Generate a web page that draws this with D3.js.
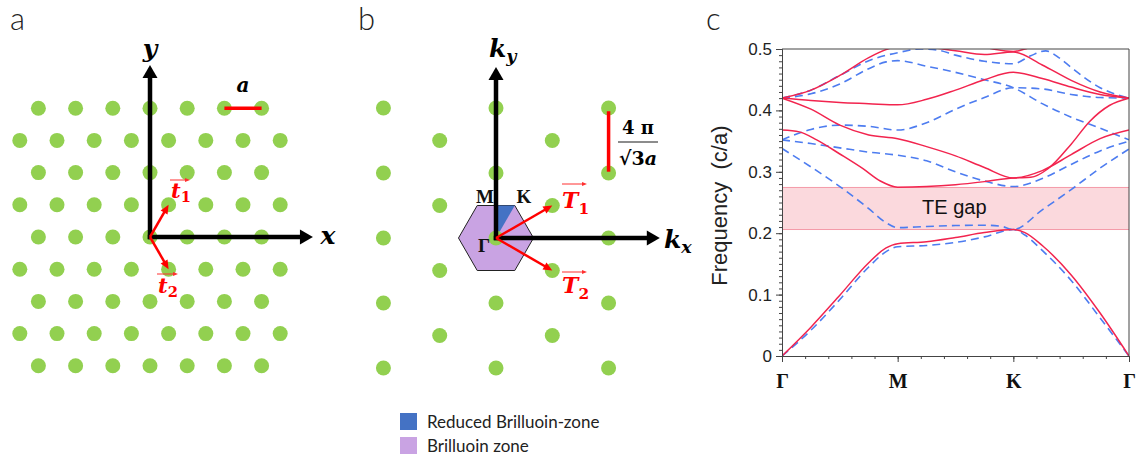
<!DOCTYPE html>
<html>
<head>
<meta charset="utf-8">
<script src="https://cdn.jsdelivr.net/npm/d3@7"></script>
<style>
  html, body { margin: 0; padding: 0; background: #fff; }
  svg { display: block; }
</style>
</head>
<body>
<svg id="fig" width="1142" height="461"></svg>
<script>
// ---------- data ----------
// panel a: real-space triangular lattice (column offsets in units of a, rows in units of a*sqrt(3)/2)
const realRows = [4, 3, 2, 1, 0, -1, -2, -3, -4];
const realColsWhole = [-3, -2, -1, 0, 1, 2, 3];
const realColsHalf = [-3.5, -2.5, -1.5, -0.5, 0.5, 1.5, 2.5, 3.5];
const realVectors = [
  {sub: '1', v: [0.5, 1]},
  {sub: '2', v: [0.5, -1]}
];

// panel b: reciprocal lattice (units of |T|)
const recipCols = [-2, -1, 0, 1, 2];           // column index, spacing sqrt(3)/2
const recipRowsEven = [2, 1, 0, -1, -2];
const recipRowsOdd = [1.5, 0.5, -0.5, -1.5];
const bzHexagon = [[0.577, 0], [0.289, 0.5], [-0.289, 0.5], [-0.577, 0], [-0.289, -0.5], [0.289, -0.5]];
const reducedBZ = [[0, 0], [0, 0.5], [0.289, 0.5]];
const recipVectors = [
  {sub: '1', v: [0.866, 0.5]},
  {sub: '2', v: [0.866, -0.5]}
];
const legendItems = [
  {label: 'Reduced Brilluoin-zone', color: '#4472c4'},
  {label: 'Brilluoin zone', color: '#c9a3e3'}
];

// panel c: band structure
const kTicks = [0, 1, 2, 3];
const kLabels = ['Γ', 'M', 'K', 'Γ'];
const freqTicks = [0, 0.1, 0.2, 0.3, 0.4, 0.5];
const teGap = [0.206, 0.2745];

// TE bands (red, solid)  [k, frequency]
const te1 = [[0,0],[0.25,0.047],[0.5,0.099],[0.75,0.152],[0.9,0.176],[1,0.183],[1.25,0.186],[1.5,0.193],[1.75,0.201],[2,0.206],[2.1,0.201],[2.25,0.180],[2.5,0.132],[2.75,0.070],[3,0]];
const te2 = [[0,0.368],[0.15,0.365],[0.3,0.352],[0.5,0.329],[0.7,0.305],[0.85,0.285],[1,0.275],[1.25,0.276],[1.5,0.279],[1.75,0.284],[2,0.290],[2.15,0.291],[2.3,0.305],[2.5,0.345],[2.66,0.382],[2.83,0.408],[3,0.42]];
const te3 = [[0,0.42],[0.25,0.402],[0.5,0.376],[0.75,0.360],[1,0.354],[1.25,0.341],[1.5,0.326],[1.75,0.307],[2,0.290],[2.25,0.302],[2.5,0.328],[2.75,0.354],[3,0.368]];
const te4 = [[0,0.42],[0.25,0.416],[0.5,0.413],[0.75,0.411],[1,0.409],[1.25,0.418],[1.5,0.433],[1.75,0.450],[2,0.462],[2.25,0.452],[2.5,0.438],[2.75,0.426],[3,0.42]];
const te5 = [[0,0.42],[0.25,0.433],[0.5,0.457],[0.75,0.486],[0.9,0.499],[1,0.504],[1.25,0.503],[1.5,0.497],[1.75,0.491],[2,0.495],[2.25,0.474],[2.5,0.449],[2.75,0.43],[3,0.42]];
const te6 = [[1.7,0.506],[1.85,0.499],[2,0.496],[2.1,0.5],[2.2,0.506]];

// TM bands (blue, dashed)
const tm1 = [[0,0],[0.25,0.042],[0.5,0.092],[0.75,0.145],[0.9,0.170],[1,0.178],[1.25,0.180],[1.5,0.185],[1.75,0.194],[2,0.206],[2.1,0.197],[2.25,0.172],[2.5,0.123],[2.75,0.062],[3,0]];
const tm2 = [[0,0.338],[0.25,0.308],[0.5,0.276],[0.75,0.240],[0.9,0.217],[1,0.209],[1.25,0.211],[1.5,0.2125],[1.75,0.213],[1.9,0.211],[2,0.206],[2.25,0.238],[2.5,0.271],[2.75,0.306],[3,0.337]];
const tm3 = [[0,0.352],[0.25,0.346],[0.5,0.339],[0.75,0.332],[1,0.327],[1.25,0.318],[1.5,0.300],[1.75,0.285],[2,0.276],[2.25,0.289],[2.5,0.312],[2.75,0.334],[3,0.350]];
const tm4 = [[0,0.352],[0.25,0.369],[0.5,0.376],[0.75,0.374],[1,0.368],[1.25,0.38],[1.5,0.402],[1.75,0.421],[2,0.437],[2.25,0.435],[2.5,0.426],[2.75,0.421],[3,0.42]];
const tm5 = [[0,0.42],[0.25,0.427],[0.5,0.443],[0.75,0.468],[0.9,0.479],[1,0.481],[1.25,0.472],[1.5,0.462],[1.75,0.450],[2,0.437],[2.25,0.411],[2.5,0.389],[2.75,0.371],[3,0.352]];
const tm6 = [[0,0.42],[0.25,0.433],[0.5,0.457],[0.75,0.481],[1,0.494],[1.2,0.5],[1.35,0.498],[1.5,0.490],[1.75,0.480],[2,0.476],[2.15,0.489],[2.28,0.497],[2.4,0.485],[2.5,0.47],[2.75,0.437],[3,0.42]];

const teBands = [te1, te2, te3, te4, te5, te6];
const tmBands = [tm1, tm2, tm3, tm4, tm5, tm6];

// ---------- styles ----------
const GREEN = '#92d050';
const RED = '#ff0000';
const MATH = '"DejaVu Serif", serif';
const PANEL_FONT = 'Lato, "DejaVu Sans", sans-serif';

const svg = d3.select('#fig');

function arrow(g, x1, y1, x2, y2, color, w, hl, hw, cap) {
  const dx = x2 - x1, dy = y2 - y1, L = Math.hypot(dx, dy);
  const ux = dx / L, uy = dy / L;
  const bx = x2 - ux * hl, by = y2 - uy * hl;
  g.append('line')
    .attr('x1', x1).attr('y1', y1)
    .attr('x2', bx + ux).attr('y2', by + uy)
    .attr('stroke', color).attr('stroke-width', w)
    .attr('stroke-linecap', cap || 'butt');
  g.append('path')
    .attr('d', `M${x2},${y2}L${bx - uy * hw / 2},${by + ux * hw / 2}L${bx + uy * hw / 2},${by - ux * hw / 2}Z`)
    .attr('fill', color);
}

function vecLabel(g, x, y, main, sub, size, subDy, color, subItalic) {
  const t = g.append('text')
    .attr('x', x).attr('y', y)
    .attr('font-family', MATH).attr('font-weight', 'bold').attr('font-style', 'italic')
    .attr('font-size', size).attr('fill', color);
  t.append('tspan').text(main);
  t.append('tspan').attr('dy', subDy).attr('font-size', size * 0.7)
    .attr('font-style', subItalic ? 'italic' : 'normal').text(sub);
  return t;
}

// panel letters
[['a', 10, 30], ['b', 358, 30], ['c', 706, 30]].forEach(([s, x, y]) => {
  svg.append('text').attr('x', x).attr('y', y)
    .attr('font-family', PANEL_FONT).attr('font-weight', 300)
    .attr('font-size', 31).attr('fill', '#222').text(s);
});

// ================= panel a =================
const xA = d3.scaleLinear().domain([0, 1]).range([150, 187.2]);
const yA = d3.scaleLinear().domain([0, 1]).range([237, 204.8]);
const gA = svg.append('g');

const realDots = [];
realRows.forEach(r => {
  const cols = (r % 2 === 0) ? realColsWhole : realColsHalf;
  cols.forEach(c => realDots.push([c, r]));
});
gA.selectAll('circle.dot').data(realDots).enter().append('circle')
  .attr('class', 'dot')
  .attr('cx', d => xA(d[0])).attr('cy', d => yA(d[1]))
  .attr('r', 7.5).attr('fill', GREEN);

// scale bar "a" between two neighbouring dots of the top row
gA.append('line')
  .attr('x1', xA(2)).attr('x2', xA(3)).attr('y1', yA(4)).attr('y2', yA(4))
  .attr('stroke', RED).attr('stroke-width', 3.5);
gA.append('text').attr('x', xA(2.5)).attr('y', yA(4) - 16)
  .attr('text-anchor', 'middle').attr('font-family', MATH)
  .attr('font-weight', 'bold').attr('font-style', 'italic').attr('font-size', 20).text('a');

// axes
arrow(gA, xA(0), yA(0), xA(0), yA(5.34), '#000', 4.5, 13, 15, 'square');
arrow(gA, xA(0), yA(0), xA(4.38), yA(0), '#000', 4.5, 13, 15, 'square');
gA.append('text').attr('x', xA(0)).attr('y', 57).attr('text-anchor', 'middle')
  .attr('font-family', MATH).attr('font-weight', 'bold').attr('font-style', 'italic')
  .attr('font-size', 25).text('y');
gA.append('text').attr('x', xA(4.58)).attr('y', yA(0) + 7)
  .attr('font-family', MATH).attr('font-weight', 'bold').attr('font-style', 'italic')
  .attr('font-size', 25).text('x');

// lattice vectors
realVectors.forEach(d => {
  arrow(gA, xA(0), yA(0), xA(d.v[0]), yA(d.v[1]), RED, 2.5, 9, 8);
});
vecLabel(gA, 171, 198, 't', '1', 21, 4, RED);
arrow(gA, 170, 180, 190, 180, '#ff3030', 1, 5, 4);
vecLabel(gA, 158, 293, 't', '2', 21, 4, RED);
arrow(gA, 157, 274, 178, 274, '#ff3030', 1, 5, 4);

// ================= panel b =================
const xB = d3.scaleLinear().domain([0, 1]).range([496, 561]);
const yB = d3.scaleLinear().domain([0, 1]).range([238, 173]);
const gB = svg.append('g');

const hexLine = d3.line().x(d => xB(d[0])).y(d => yB(d[1])).curve(d3.curveLinearClosed);
gB.append('path').attr('d', hexLine(bzHexagon))
  .attr('fill', legendItems[1].color).attr('stroke', '#222').attr('stroke-width', 1);
gB.append('path').attr('d', hexLine(reducedBZ))
  .attr('fill', legendItems[0].color).attr('stroke', 'none');

const recipDots = [];
recipCols.forEach(c => {
  const rows = (c % 2 === 0) ? recipRowsEven : recipRowsOdd;
  rows.forEach(r => recipDots.push([c * 0.866, r]));
});
gB.selectAll('circle.dot').data(recipDots).enter().append('circle')
  .attr('class', 'dot')
  .attr('cx', d => xB(d[0])).attr('cy', d => yB(d[1]))
  .attr('r', 7.5).attr('fill', GREEN);

// scale bar 4pi/(sqrt3 a)
gB.append('line')
  .attr('x1', xB(1.732)).attr('x2', xB(1.732)).attr('y1', yB(1.02)).attr('y2', yB(1.95))
  .attr('stroke', RED).attr('stroke-width', 3.5);
gB.append('text').attr('x', 638).attr('y', 134).attr('text-anchor', 'middle')
  .attr('font-family', MATH).attr('font-weight', 'bold').attr('font-size', 18)
  .text('4 π');
gB.append('line').attr('x1', 618).attr('x2', 658).attr('y1', 142).attr('y2', 142)
  .attr('stroke', '#666').attr('stroke-width', 1.3);
const frac = gB.append('text').attr('x', 638).attr('y', 165).attr('text-anchor', 'middle')
  .attr('font-family', MATH).attr('font-weight', 'bold').attr('font-size', 19);
frac.append('tspan').text('√3');
frac.append('tspan').attr('font-style', 'italic').text('a');

// axes
arrow(gB, xB(0), yB(0), xB(0), yB(2.63), '#000', 4.5, 13, 15, 'square');
arrow(gB, xB(0), yB(0), xB(2.52), yB(0), '#000', 4.5, 13, 15, 'square');
vecLabel(gB, 489, 57, 'k', 'y', 25, 5, '#000', true);
vecLabel(gB, 664, 248, 'k', 'x', 25, 5, '#000', true);

// reciprocal vectors
recipVectors.forEach(d => {
  arrow(gB, xB(0), yB(0), xB(d.v[0]), yB(d.v[1]), RED, 2.5, 9, 8);
});
vecLabel(gB, 562, 208, 'T', '1', 22, 6, RED);
arrow(gB, 562, 184, 587, 184, '#ff3030', 1, 5, 4);
vecLabel(gB, 562, 293, 'T', '2', 22, 6, RED);
arrow(gB, 562, 272, 587, 272, '#ff3030', 1, 5, 4);

// high-symmetry labels
[['M', 485, 203], ['K', 524, 203], ['Γ', 484, 252]].forEach(([s, x, y]) => {
  gB.append('text').attr('x', x).attr('y', y).attr('text-anchor', 'middle')
    .attr('font-family', '"Liberation Serif", serif').attr('font-weight', 'bold')
    .attr('font-size', 19).attr('fill', '#111').text(s);
});

// legend
const leg = svg.append('g').attr('transform', 'translate(400,413)');
legendItems.forEach((d, i) => {
  leg.append('rect').attr('x', 0).attr('y', i * 24).attr('width', 17).attr('height', 17)
    .attr('fill', d.color);
  leg.append('text').attr('x', 27).attr('y', i * 24 + 15)
    .attr('font-family', 'Lato, "Open Sans", sans-serif').attr('font-size', 17)
    .attr('fill', '#222').text(d.label);
});

// ================= panel c =================
const xC = d3.scaleLinear().domain([0, 3]).range([782, 1129]);
const yC = d3.scaleLinear().domain([0, 0.5]).range([356, 49]);
const gC = svg.append('g');

gC.append('clipPath').attr('id', 'plotClip').append('rect')
  .attr('x', xC(0)).attr('y', yC(0.5)).attr('width', xC(3) - xC(0)).attr('height', yC(0) - yC(0.5));

// TE gap band
gC.append('rect')
  .attr('x', xC(0)).attr('width', xC(3) - xC(0))
  .attr('y', yC(teGap[1])).attr('height', yC(teGap[0]) - yC(teGap[1]))
  .attr('fill', '#fbd9dd').attr('stroke', 'none');
teGap.forEach(v => {
  gC.append('line').attr('x1', xC(0)).attr('x2', xC(3)).attr('y1', yC(v)).attr('y2', yC(v))
    .attr('stroke', '#f49aa8').attr('stroke-width', 1);
});
gC.append('text').attr('x', xC(1.49)).attr('y', 214).attr('text-anchor', 'middle')
  .attr('font-family', '"Liberation Sans", Arial, sans-serif').attr('font-size', 20)
  .attr('fill', '#111').text('TE gap');

const band = d3.line().x(d => xC(d[0])).y(d => yC(d[1])).curve(d3.curveMonotoneX);
const bands = gC.append('g').attr('clip-path', 'url(#plotClip)');
bands.selectAll('path.tm').data(tmBands).enter().append('path')
  .attr('class', 'tm').attr('d', band)
  .attr('fill', 'none').attr('stroke', '#4d7cf0').attr('stroke-width', 1.6)
  .attr('stroke-dasharray', '8,5');
bands.selectAll('path.te').data(teBands).enter().append('path')
  .attr('class', 'te').attr('d', band)
  .attr('fill', 'none').attr('stroke', '#f2244e').attr('stroke-width', 1.5);

// frame (top, right)
gC.append('path')
  .attr('d', `M${xC(0)},${yC(0.5)}H${xC(3)}V${yC(0)}`)
  .attr('fill', 'none').attr('stroke', '#444').attr('stroke-width', 1);

// y axis
const yMinor = gC.append('g').attr('transform', `translate(${xC(0)},0)`)
  .call(d3.axisLeft(yC).tickValues(d3.range(0, 0.5001, 0.01)).tickSize(3).tickFormat(''));
const yAxis = gC.append('g').attr('transform', `translate(${xC(0)},0)`)
  .call(d3.axisLeft(yC).tickValues(freqTicks).tickSize(6).tickPadding(4)
    .tickFormat(d => d === 0 ? '0' : d3.format('.1f')(d)));
yAxis.selectAll('text').attr('font-family', '"Liberation Sans", Arial, sans-serif')
  .attr('font-size', 17).attr('fill', '#222');

// x axis
const xMinor = gC.append('g').attr('transform', `translate(0,${yC(0)})`)
  .call(d3.axisBottom(xC).tickValues(d3.range(0, 3.001, 0.2)).tickSize(3).tickFormat(''));
const xAxis = gC.append('g').attr('transform', `translate(0,${yC(0)})`)
  .call(d3.axisBottom(xC).tickValues(kTicks).tickSize(6).tickPadding(12)
    .tickFormat((d, i) => kLabels[i]));
xAxis.selectAll('text').attr('font-family', '"Liberation Serif", serif')
  .attr('font-weight', 'bold').attr('font-size', 20).attr('fill', '#111');

[yMinor, yAxis, xMinor, xAxis].forEach(a => {
  a.select('.domain').attr('stroke', '#444');
  a.selectAll('.tick line').attr('stroke', '#444');
});

// y axis title
gC.append('text')
  .attr('transform', `translate(727,${yC(0.245)}) rotate(-90)`)
  .attr('text-anchor', 'middle')
  .attr('font-family', '"Liberation Sans", Arial, sans-serif').attr('font-size', 22)
  .attr('fill', '#222')
  .attr('xml:space', 'preserve')
  .text('Frequency  (c/a)');
</script>
</body>
</html>
